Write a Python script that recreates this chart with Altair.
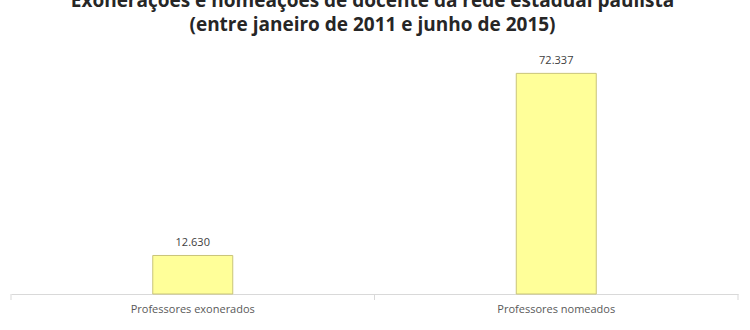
import altair as alt
import pandas as pd

categories = ["Professores exonerados", "Professores nomeados"]
values = [12630, 72337]
labels = [f"{v:,}".replace(",", ".") for v in values]

df = pd.DataFrame({"cat": categories, "val": values, "lab": labels})

xenc = alt.X("cat:N", sort=categories, title=None,
             scale=alt.Scale(paddingInner=0, paddingOuter=0),
             axis=alt.Axis(labelAngle=0, ticks=False, domain=True, domainColor="#d9d9d9",
                           labelColor="#595959", labelFont="Open Sans", labelFontSize=11,
                           labelPadding=9))
yenc = alt.Y("val:Q", scale=alt.Scale(domain=[0, 80000]), axis=None)

base = alt.Chart(df)

bars = base.mark_bar(width=80, fill="#FFFF99", stroke="#C9C47A", strokeWidth=1).encode(
    x=xenc, y=yenc)

text = base.mark_text(baseline="bottom", dy=-7, font="Open Sans", fontSize=11,
                      color="#404040").encode(
    x=alt.X("cat:N", sort=categories), y=yenc, text="lab:N")

ticks = base.mark_rule(color="#d9d9d9").encode(
    x=alt.X("cat:N", sort=categories, bandPosition=0),
    y=alt.value(244), y2=alt.value(250))

end_tick = alt.Chart(pd.DataFrame({"a": [0]})).mark_rule(color="#d9d9d9").encode(
    x=alt.value(727), y=alt.value(244), y2=alt.value(250))

chart = alt.layer(bars, text, ticks, end_tick).properties(
    width=727, height=244,
    autosize=alt.AutoSizeParams(type="none"),
    padding={"left": 11, "top": 50, "right": 12, "bottom": 36},
    background="white",
    title=alt.TitleParams(
        text=["Exonerações e nomeações de docente da rede estadual paulista",
              "(entre janeiro de 2011 e junho de 2015)"],
        anchor="middle", font="Open Sans", fontSize=19, fontWeight="bold",
        color="#262626", lineHeight=24, offset=15, dx=-2),
).configure_view(stroke=None)

chart.save("out.html", embed_options={"renderer": "svg", "actions": False})
